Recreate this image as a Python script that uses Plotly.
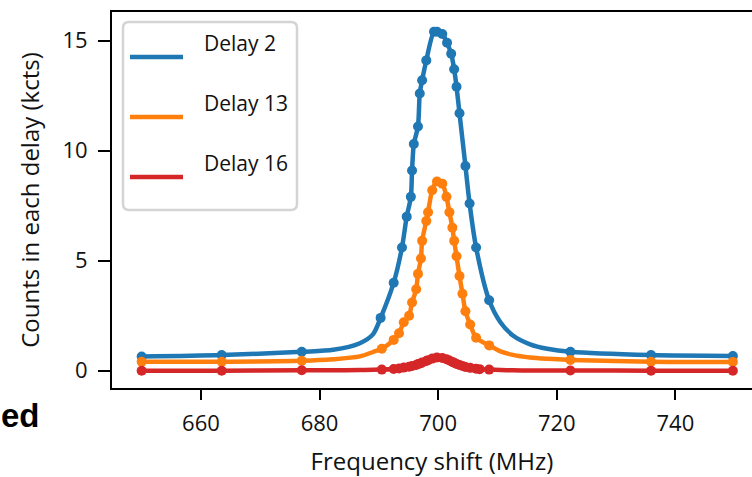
import plotly.graph_objects as go

x_blue = [650.0, 663.5, 677.0, 690.3, 692.5, 693.9, 694.7, 695.4, 695.6, 695.9, 696.6, 696.9,
          697.3, 698.0, 699.3, 699.8, 700.7, 701.5, 702.2, 702.7, 703.1, 703.6, 704.6, 705.3,
          706.4, 708.6, 722.3, 735.9, 749.7]
y_blue = [0.64, 0.71, 0.86, 2.4, 4.0, 5.6, 7.0, 7.9, 9.1, 10.3, 11.1, 12.6,
          13.2, 14.1, 15.4, 15.4, 15.3, 14.9, 14.4, 13.7, 12.9, 11.7, 9.3, 7.6,
          5.6, 3.2, 0.86, 0.71, 0.67]

x_orange = [650.0, 663.5, 677.0, 690.5, 692.5, 693.4, 694.2, 695.1, 695.6, 696.3, 696.6, 697.1,
            697.3, 698.0, 698.3, 699.0, 699.8, 700.7, 701.4, 701.9, 702.4, 702.7, 703.1, 703.6,
            704.1, 704.6, 705.4, 706.4, 708.6, 722.3, 735.9, 749.7]
y_orange = [0.41, 0.41, 0.45, 1.0, 1.4, 1.7, 2.2, 2.5, 3.1, 3.7, 4.4, 5.1,
            5.9, 6.8, 7.2, 8.2, 8.6, 8.5, 7.9, 7.2, 6.5, 5.9, 5.2, 4.3,
            3.5, 2.7, 2.1, 1.5, 1.15, 0.49, 0.41, 0.40]

x_red = [650.0, 663.5, 677.0, 690.5, 692.5, 693.4, 694.2, 695.1, 695.6, 696.3, 696.6, 697.1,
         697.3, 698.0, 698.3, 699.0, 699.8, 700.7, 701.4, 701.9, 702.4, 702.7, 703.1, 703.6,
         704.1, 704.6, 705.4, 706.4, 707.0, 708.6, 722.3, 735.9, 749.7]
y_red = [0.0, 0.0, 0.02, 0.05, 0.08, 0.10, 0.14, 0.18, 0.21, 0.26, 0.30, 0.34,
         0.37, 0.44, 0.48, 0.55, 0.60, 0.58, 0.52, 0.46, 0.40, 0.36, 0.31, 0.26,
         0.21, 0.17, 0.13, 0.09, 0.07, 0.05, 0.01, 0.0, 0.0]

# extra curve values in the sparse tails
x_tail = [682.3, 686.8, 689.0, 710.5, 712.6, 715.5, 718.4]
tail_blue = [0.95, 1.25, 1.65, 2.2, 1.6, 1.2, 1.0]
tail_orange = [0.52, 0.65, 0.85, 0.88, 0.72, 0.60, 0.54]
tail_red = [0.02, 0.03, 0.04, 0.03, 0.02, 0.01, 0.01]

series_names = ["Delay 2", "Delay 13", "Delay 16"]
series_colors = ["#1f77b4", "#ff7f0e", "#d62728"]

x_ticks = [660, 680, 700, 720, 740]
y_ticks = [0, 5, 10, 15]

FONT = "Open Sans"

# ---------------- figure ----------------
W, H = 752, 477
L, R, T, B = 112, 0, 12, 89
pw, ph = W - L - R, H - T - B

def px(x):
    return (x - L) / pw

def py(y):
    return (H - B - y) / ph

fig = go.Figure()
for xs, ys, ty, name, col in zip([x_blue, x_orange, x_red], [y_blue, y_orange, y_red],
                                 [tail_blue, tail_orange, tail_red],
                                 series_names, series_colors):
    pts = sorted(list(zip(xs, ys)) + list(zip(x_tail, ty)))
    fig.add_trace(go.Scatter(
        x=[p[0] for p in pts], y=[p[1] for p in pts], mode="lines",
        line=dict(color=col, width=4.5, shape="spline", smoothing=0.8),
        showlegend=False, hoverinfo="skip",
    ))
    fig.add_trace(go.Scatter(
        x=xs, y=ys, name=name, mode="markers",
        marker=dict(color=col, size=10),
        showlegend=False,
    ))

fig.update_layout(
    width=W, height=H,
    margin=dict(l=L, r=R, t=T, b=B),
    plot_bgcolor="white", paper_bgcolor="white",
    font=dict(family=FONT, size=21, color="#111111"),
    xaxis=dict(
        range=[645, 645 + pw / 5.93],
        tickvals=x_ticks, ticktext=[str(v) for v in x_ticks],
        showgrid=False, zeroline=False,
        showline=True, linecolor="black", linewidth=2, mirror=True,
        ticks="outside", ticklen=10, tickwidth=2, tickcolor="black",
        ticklabelstandoff=5,
        tickfont=dict(family=FONT, size=22, color="#111111"),
        title=dict(text="Frequency shift (MHz)", standoff=18,
                   font=dict(family=FONT, size=24, color="#111111")),
    ),
    yaxis=dict(
        range=[-0.786, 16.30],
        tickvals=y_ticks, ticktext=[str(v) for v in y_ticks],
        showgrid=False, zeroline=False,
        showline=True, linecolor="black", linewidth=2, mirror=False,
        ticks="outside", ticklen=12, tickwidth=2, tickcolor="black",
        ticklabelstandoff=6,
        tickfont=dict(family=FONT, size=22, color="#111111"),
        title=dict(text="Counts in each delay (kcts)", standoff=16,
                   font=dict(family=FONT, size=24, color="#111111")),
    ),
)

# ---------------- legend (drawn manually) ----------------
x0, x1, y0, y1 = 123, 297, 22, 210
r = 6
rx, ry = r / pw, r / ph
X0, X1, Y0, Y1 = px(x0), px(x1), py(y1), py(y0)
path = (f"M {X0+rx},{Y0} L {X1-rx},{Y0} Q {X1},{Y0} {X1},{Y0+ry} "
        f"L {X1},{Y1-ry} Q {X1},{Y1} {X1-rx},{Y1} L {X0+rx},{Y1} "
        f"Q {X0},{Y1} {X0},{Y1-ry} L {X0},{Y0+ry} Q {X0},{Y0} {X0+rx},{Y0} Z")
fig.add_shape(type="path", path=path, xref="paper", yref="paper",
              line=dict(color="#d4d4d4", width=2.5), fillcolor="white", layer="above")

line_y = [57, 117, 177]
text_y = [43, 103, 163]
for name, col, ly, ty in zip(series_names, series_colors, line_y, text_y):
    fig.add_shape(type="line", xref="paper", yref="paper",
                  x0=px(130), x1=px(183), y0=py(ly), y1=py(ly),
                  line=dict(color=col, width=4.5), layer="above")
    fig.add_annotation(x=px(202), y=py(ty), xref="paper", yref="paper",
                       text=name, showarrow=False, xanchor="left", yanchor="middle",
                       font=dict(family=FONT, size=21, color="#111111"))

# partial panel label at lower left
fig.add_annotation(x=px(42), y=py(415), xref="paper", yref="paper",
                   text="<b>ed</b>", showarrow=False, xanchor="right", yanchor="middle",
                   font=dict(family="Liberation Sans", size=33, color="black"))

fig.write_html("out.html")
